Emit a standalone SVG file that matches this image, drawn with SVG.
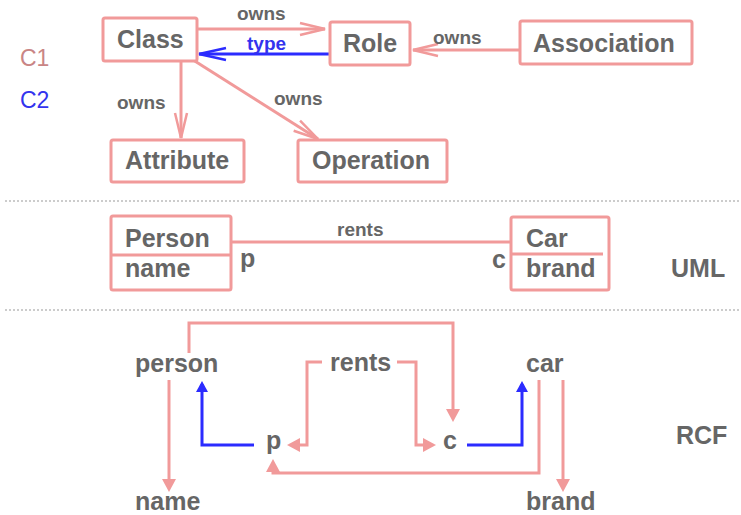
<svg xmlns="http://www.w3.org/2000/svg" width="741" height="515" viewBox="0 0 741 515">
<style>
.box{fill:#fff;stroke:#f19a9a;stroke-width:3}
.ln{fill:none;stroke:#f19a9a;stroke-width:3}
.bl{fill:none;stroke:#2b2bff;stroke-width:3}
.t{font-family:"Liberation Sans",Arial,sans-serif;font-weight:bold;font-size:25px;fill:#666}
.lb{font-family:"Liberation Sans",Arial,sans-serif;font-weight:bold;font-size:19px;fill:#666}
.sep{stroke:#999;stroke-width:1;stroke-dasharray:2,2}
</style>
<defs>
<marker id="open" markerUnits="userSpaceOnUse" viewBox="-27 -8 30 16" refX="0" refY="0" markerWidth="30" markerHeight="16" orient="auto" overflow="visible">
<path d="M-25,-6 L0,0 L-25,6" fill="none" stroke="#f19a9a" stroke-width="2.5"/>
</marker>
<marker id="openb" markerUnits="userSpaceOnUse" viewBox="-27 -8 30 16" refX="0" refY="0" markerWidth="30" markerHeight="16" orient="auto" overflow="visible">
<path d="M-27,-6 L0,0 L-27,6" fill="none" stroke="#2b2bff" stroke-width="2.5"/>
</marker>
<marker id="fill" markerUnits="userSpaceOnUse" viewBox="-10 -8 16 16" refX="0" refY="0" markerWidth="16" markerHeight="16" orient="auto" overflow="visible">
<path d="M-9,-7 L4,0 L-9,7 Z" fill="#f19a9a"/>
</marker>
<marker id="fillb" markerUnits="userSpaceOnUse" viewBox="-10 -8 16 16" refX="0" refY="0" markerWidth="16" markerHeight="16" orient="auto" overflow="visible">
<path d="M-8,-6 L3,0 L-8,6 Z" fill="#2b2bff"/>
</marker>
</defs>

<g id="legend">
<text x="20" y="66" style="font-family:'Liberation Sans',Arial,sans-serif;font-size:23px;fill:#c98585">C1</text>
<text x="20" y="108" style="font-family:'Liberation Sans',Arial,sans-serif;font-size:23px;fill:#3333ee">C2</text>
</g>

<g id="separators">
<line class="sep" x1="5" y1="201" x2="741" y2="201"/>
<line class="sep" x1="5" y1="310" x2="741" y2="310"/>
</g>

<g id="connectors">
<line class="ln" x1="198" y1="29" x2="325" y2="29" marker-end="url(#open)"/>
<line class="bl" x1="330" y1="54" x2="199" y2="54" marker-end="url(#openb)"/>
<line class="ln" x1="520" y1="50" x2="413" y2="50" marker-end="url(#open)"/>
<line class="ln" x1="181" y1="61" x2="181" y2="138" marker-end="url(#open)"/>
<line class="ln" x1="190" y1="58" x2="318" y2="139" marker-end="url(#open)"/>
<line class="ln" x1="231" y1="242" x2="511" y2="242"/>
<path class="ln" d="M189,353 V323 H453 V418" marker-end="url(#fill)"/>
<path class="ln" d="M169,380 V488" marker-end="url(#fill)"/>
<path class="bl" d="M254,445 H202 V384" marker-end="url(#fillb)"/>
<path class="ln" d="M322,362 H307 V445 H291" marker-end="url(#fill)"/>
<path class="ln" d="M397,362 H416 V445 H432" marker-end="url(#fill)"/>
<path class="bl" d="M467,445 H522 V384" marker-end="url(#fillb)"/>
<path class="ln" d="M539,380 V473 H273 V463" marker-end="url(#fill)"/>
<path class="ln" d="M563,380 V488" marker-end="url(#fill)"/>
</g>

<g id="labels">
<text class="lb" x="237" y="20">owns</text>
<text class="lb" x="247" y="50" style="fill:#3333ee">type</text>
<text class="lb" x="433" y="44">owns</text>
<text class="lb" x="117" y="109">owns</text>
<text class="lb" x="274" y="105">owns</text>
<text class="lb" x="337" y="236">rents</text>
<text class="t" x="240" y="267">p</text>
<text class="t" x="492" y="268">c</text>
</g>

<g id="Class"><rect class="box" x="103" y="18" width="94" height="43" rx="2"/><text class="t" x="117" y="48">Class</text></g>
<g id="Role"><rect class="box" x="330" y="22" width="80" height="43" rx="2"/><text class="t" x="343" y="52">Role</text></g>
<g id="Association"><rect class="box" x="520" y="21" width="172" height="43" rx="2"/><text class="t" x="533" y="52">Association</text></g>
<g id="Attribute"><rect class="box" x="111" y="140" width="133" height="42" rx="2"/><text class="t" x="125" y="169">Attribute</text></g>
<g id="Operation"><rect class="box" x="298" y="140" width="149" height="42" rx="2"/><text class="t" x="312" y="169">Operation</text></g>

<g id="Person"><rect class="box" x="111" y="216" width="120" height="74" rx="2"/><line class="ln" x1="111" y1="255" x2="231" y2="255"/><text class="t" x="125" y="247">Person</text><text class="t" x="125" y="277">name</text></g>
<g id="Car"><rect class="box" x="511" y="217" width="98" height="73" rx="2"/><line class="ln" x1="511" y1="254" x2="603" y2="254"/><text class="t" x="526" y="247">Car</text><text class="t" x="526" y="277">brand</text></g>
<g id="UML"><text class="t" x="671" y="277">UML</text></g>

<g id="person"><text class="t" x="135" y="372">person</text></g>
<g id="name"><text class="t" x="135" y="510">name</text></g>
<g id="rents"><text class="t" x="330" y="371">rents</text></g>
<g id="p"><text class="t" x="266" y="449">p</text></g>
<g id="c"><text class="t" x="443" y="449">c</text></g>
<g id="car"><text class="t" x="526" y="372">car</text></g>
<g id="brand"><text class="t" x="526" y="510">brand</text></g>
<g id="RCF"><text class="t" x="676" y="444">RCF</text></g>
</svg>
